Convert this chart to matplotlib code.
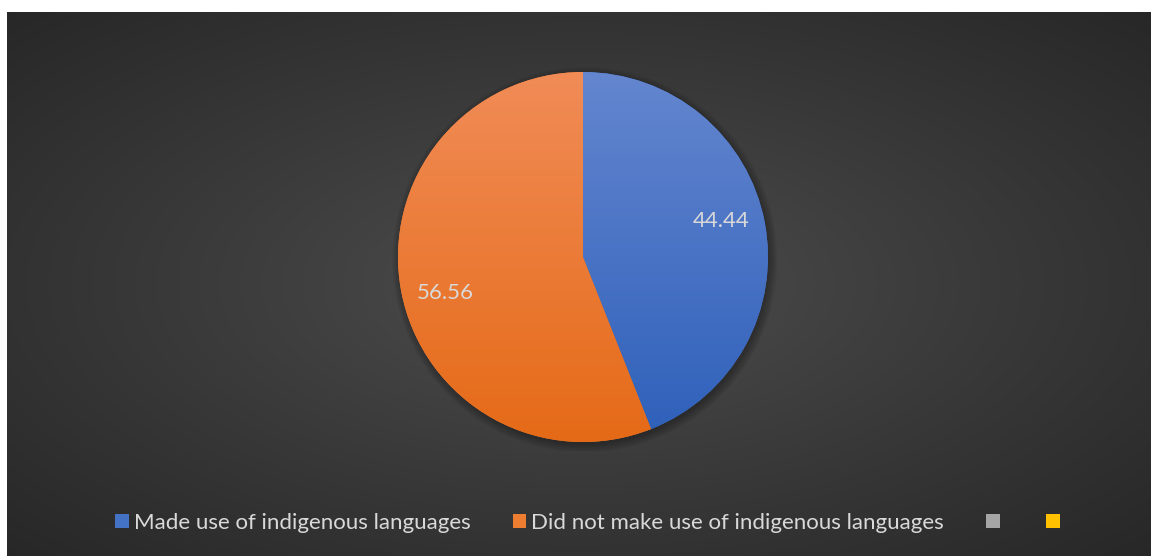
import numpy as np
import matplotlib.pyplot as plt
from matplotlib.colors import LinearSegmentedColormap
from matplotlib.patches import Patch, Circle

# data
labels = ['Made use of indigenous languages', 'Did not make use of indigenous languages', '', '']
values = [44.44, 56.56]
colors = ['#4472c4', '#ed7d31', '#a5a5a5', '#ffc000']
tops = ['#6486cf', '#f18c57']
bottoms = ['#2e60ba', '#e56a17']

plt.rcParams['font.family'] = ['Lato', 'DejaVu Sans']

W, H = 1151, 556
fig = plt.figure(figsize=(W / 100, H / 100), dpi=100, facecolor='white')

# dark radial background
bg = fig.add_axes([7 / W, 0, (W - 7) / W, (H - 12) / H])
bg.set_axis_off()
yy, xx = np.mgrid[0:1:300j, 0:1:600j]
d = np.sqrt(((xx - 0.5) / 0.5) ** 2 + ((yy - 0.5) / 0.5) ** 2) / np.sqrt(2)
shade = 0.31 - 0.155 * np.clip(d, 0, 1) ** 0.9
bg.imshow(np.dstack([shade, shade, shade]), extent=(0, 1, 0, 1), aspect='auto')
bg.set_xlim(0, 1)
bg.set_ylim(0, 1)

# pie
cx, cy, r = 583, 257, 185
pad = 1.05
ax = fig.add_axes([(cx - r * pad) / W, (H - cy - r * pad) / H, 2 * r * pad / W, 2 * r * pad / H])
ax.set_axis_off()

# soft shadow
for k in range(6):
    ax.add_patch(Circle((0.01, -0.015), 1.0 + 0.008 * k, color='black',
                        alpha=0.05, lw=0, zorder=0))

wedges, _ = ax.pie(values, colors=colors[:2], startangle=90, counterclock=False,
                   wedgeprops=dict(linewidth=0))

grad = np.linspace(0, 1, 256).reshape(-1, 1)
for w, c0, c1, v in zip(wedges, tops, bottoms, values):
    cmap = LinearSegmentedColormap.from_list('g', [c0, c1])
    im = ax.imshow(grad, extent=(-1, 1, -1, 1), cmap=cmap, aspect='auto', zorder=2)
    im.set_clip_path(w)
    # best-fit style label, nudged a little like Excel does
    ang = np.deg2rad((w.theta1 + w.theta2) / 2 + 4)
    ax.text(0.77 * np.cos(ang), 0.77 * np.sin(ang), f'{v:.2f}', color='#d9d9d9',
            fontsize=16, ha='center', va='center', zorder=5)
ax.set_xlim(-pad, pad)
ax.set_ylim(-pad, pad)

# legend
handles = [Patch(facecolor=c, edgecolor='none') for c in colors]
fig.legend(handles, labels, loc='center', bbox_to_anchor=(590 / W, 1 - 523 / H),
           ncol=4, frameon=False, fontsize=16, handlelength=0.62, handleheight=0.62,
           handletextpad=0.2, columnspacing=1.9, labelcolor='#d9d9d9')

fig.savefig('out.png', dpi=100, facecolor='white')
